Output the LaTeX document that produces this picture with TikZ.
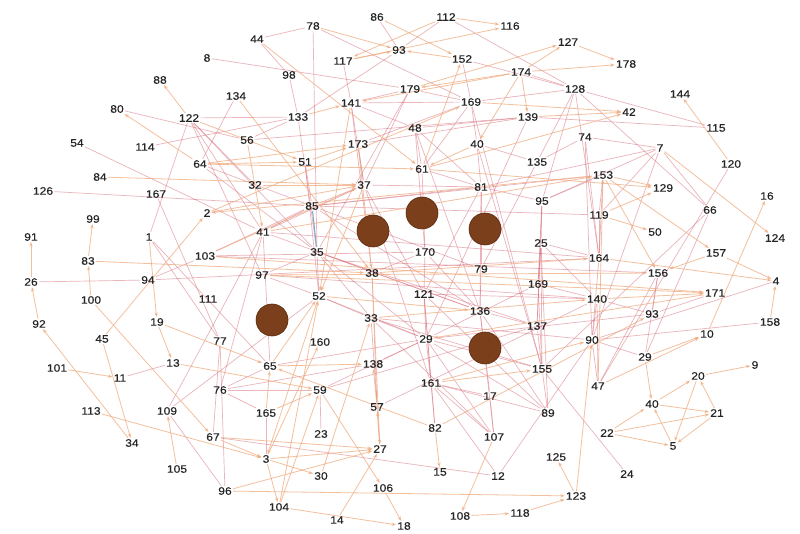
\documentclass[tikz,border=0pt]{standalone}
\usepackage{fontspec}
\setmainfont{Liberation Sans}[FakeStretch=1.12,FakeBold=0.35]
\usetikzlibrary{arrows.meta}
\pgfdeclarelayer{bg}
\pgfdeclarelayer{edges}
\pgfsetlayers{bg,edges,main}
\definecolor{eorange}{HTML}{F0AB7E}
\definecolor{ered}{HTML}{D66A78}
\definecolor{lbltxt}{HTML}{262626}
\definecolor{dotbrown}{HTML}{7B3F1B}
\definecolor{dotedge}{HTML}{5A2A0E}
\definecolor{eblue}{HTML}{86AACB}
\begin{document}
\begin{tikzpicture}[x=1pt,y=-1pt,
  lbl/.style={font=\fontsize{10.8}{11}\selectfont, text=lbltxt, inner sep=1pt},
  eo/.style={draw=eorange, opacity=0.75, line width=0.8pt, -{Stealth[length=4.5pt,width=3.4pt]}},
  er/.style={draw=ered, opacity=0.5, line width=0.7pt},
  eb/.style={draw=eblue, line width=1.1pt},
  hub/.style={circle, fill=dotbrown, draw=dotedge, line width=0.6pt, minimum size=32pt, inner sep=0pt}]
\useasboundingbox (0,0) rectangle (800,534);
\begin{pgfonlayer}{bg}
\fill[white] (0,0) rectangle (800,534);
\end{pgfonlayer}
\foreach \n/\x/\y/\t in {78/313/26/78, 86/377/17/86, 112/446/17/112, 116/510/26/116, 127/568/42/127, 178/626/64/178, 44/257/39/44, 93/399/50/93, 117/343/61/117, 152/462/59/152, 174/521/72/174, 8/207/58/8, 98/289/75/98, 179/410/89/179, 128/575/89/128, 169/471/102/169, 42/629/112/42, 144/680/94/144, 88/160/80/88, 134/236/96/134, 141/351/103/141, 139/528/117/139, 115/716/128/115, 80/117/109/80, 122/189/118/122, 133/298/117/133, 48/415/128/48, 40/477/144/40, 74/585/137/74, 7/660/148/7, 54/77/143/54, 114/145/147/114, 56/247/140/56, 173/358/144/173, 135/537/162/135, 120/731/164/120, 84/100/177/84, 64/200/164/64, 51/305/162/51, 61/422/169/61, 153/603/175/153, 126/43/191/126, 167/156/194/167, 32/255/185/32, 37/364/185/37, 81/481/187/81, 95/542/201/95, 129/663/188/129, 66/710/210/66, 16/767/196/16, 85/312/206/85, 2/207/213/2, 119/599/215/119, 124/775/238/124, 99/93/219/99, 91/31/237/91, 1/149/237/1, 41/263/232/41, 50/655/232/50, 170/425/252/170, 25/541/243/25, 157/716/253/157, 103/205/256/103, 35/317/252/35, 164/599/258/164, 83/88/261/83, 26/31/282/26, 94/148/280/94, 97/262/275/97, 38/372/273/38, 79/481/269/79, 156/658/273/156, 4/776/281/4, 171/715/293/171, 169b/538/284/169, 121/424/294/121, 100/91/300/100, 111/208/299/111, 52/319/296/52, 140/597/299/140, 136/480/311/136, 158/770/322/158, 92/39/324/92, 19/157/322/19, 33/371/318/33, 93b/652/314/93, 137/537/326/137, 45/102/339/45, 77/220/341/77, 160/320/342/160, 29/426/339/29, 90/592/340/90, 10/707/334/10, 13/173/363/13, 138/373/364/138, 65/270/366/65, 29b/645/357/29, 20/698/376/20, 9/755/365/9, 101/57/368/101, 11/120/378/11, 76/220/390/76, 59/320/390/59, 161/431/383/161, 155/542/369/155, 47/598/386/47, 17/490/396/17, 57/377/407/57, 89/548/413/89, 40b/652/404/40, 21/717/413/21, 113/91/411/113, 109/167/411/109, 165/266/413/165, 23/321/434/23, 82/435/428/82, 107/494/437/107, 22/607/433/22, 5/673/446/5, 67/213/437/67, 34/132/443/34, 27/380/449/27, 3/266/459/3, 30/321/476/30, 15/440/472/15, 12/498/476/12, 125/556/457/125, 24/627/474/24, 105/177/469/105, 96/225/491/96, 106/383/488/106, 123/576/496/123, 104/279/507/104, 14/337/520/14, 18/404/526/18, 108/460/516/108, 118/520/513/118}
  \node[lbl] (n\n) at (\x,\y) {\t};
\begin{pgfonlayer}{edges}
\foreach \a/\b in {54/41, 114/133, 80/56, 126/85, 167/77, 1/122, 1/77, 94/26, 94/103, 94/164, 109/52, 109/96, 109/41, 77/96, 77/67, 103/85, 41/85, 41/164, 41/37, 41/65, 41/76, 32/122, 64/85, 64/35, 133/35, 133/93, 133/56, 133/122, 98/133, 44/98, 78/44, 78/35, 78/169, 8/179, 134/64, 51/85, 51/52, 122/35, 122/97, 122/41, 11/13, 85/37, 85/81, 85/153, 85/119, 85/136, 85/79, 35/52, 35/97, 35/33, 35/136, 35/137, 35/29, 37/173, 37/161, 37/121, 37/141, 37/81, 38/57, 81/79, 81/136, 81/61, 81/95, 81/121, 81/48, 95/25, 95/169b, 95/137, 95/153, 95/7, 95/128, 25/169b, 25/137, 25/140, 25/164, 169b/155, 169b/29, 169b/140, 164/119, 164/153, 164/90, 119/153, 119/7, 156/93b, 156/29b, 156/47, 140/93b, 140/90, 93b/29, 93b/171, 90/29b, 90/4, 158/90, 137/136, 136/79, 136/170, 121/170, 121/161, 121/29, 29/33, 29/52, 29/59, 170/48, 170/38, 170/61, 170/103, 61/48, 61/169, 48/141, 48/136, 40/81, 40/169, 40/135, 135/128, 135/79, 135/74, 139/29, 139/173, 139/48, 74/7, 74/164, 74/90, 128/164, 128/115, 128/169, 128/174, 112/128, 112/93, 86/93, 117/141, 169/141, 169/173, 169/155, 179/141, 179/37, 179/169, 179/35, 141/38, 52/97, 52/33, 33/27, 33/155, 76/59, 76/65, 138/29, 82/161, 82/121, 161/17, 161/89, 161/107, 161/29, 17/107, 17/136, 12/161, 12/90, 107/33, 107/136, 107/29, 89/155, 89/136, 89/25, 89/121, 47/140, 47/90, 24/155, 155/25, 155/137, 155/29, 155/40, 165/3, 165/76, 59/23, 67/12, 57/140, 66/29b, 66/155, 120/47, 115/139, 7/81, 7/66, 7/90, 1/65, 152/169, 152/128, 128/66, 56/139, 103/156, 97/140, 41/136, 33/90, 121/140, 29/89, 59/137, 65/29, 76/138}
  \draw[er] (n\a) -- (n\b);
\foreach \a/\b in {122/88, 64/80, 83/99, 26/91, 100/83, 92/26, 34/92, 45/34, 45/2, 101/11, 1/19, 113/3, 105/109, 100/67, 19/65, 19/13, 13/59, 56/41, 134/38, 44/61, 78/93, 117/93, 117/116, 112/116, 112/117, 86/152, 174/127, 174/139, 174/40, 40/61, 179/127, 174/178, 127/178, 169/42, 61/42, 139/42, 153/129, 119/129, 153/157, 153/156, 7/124, 157/4, 157/156, 164/4, 158/4, 10/16, 29b/10, 140/171, 119/50, 120/144, 123/125, 118/123, 108/118, 107/108, 82/15, 20/9, 21/20, 40b/20, 40b/21, 5/40b, 22/40b, 22/21, 22/5, 21/5, 20/5, 29b/40b, 47/10, 47/153, 123/90, 3/104, 3/30, 3/27, 67/3, 67/27, 96/27, 96/123, 104/18, 14/27, 104/59, 104/52, 3/160, 165/65, 165/59, 59/106, 106/18, 30/33, 57/138, 27/57, 65/52, 65/138, 82/65, 82/93b, 161/155, 173/38, 64/51, 64/173, 51/173, 133/141, 32/37, 84/37, 83/38, 103/171, 97/171, 174/141, 174/179, 152/93, 61/129, 61/152, 153/2, 141/52, 37/52, 38/27, 2/169, 41/153, 103/37, 52/3, 97/156, 171/29, 122/51, 64/61, 2/37, 52/136, 33/140, 38/164, 161/90}
  \draw[eo] (n\a) -- (n\b);
\draw[eb] (n85) -- (n35);
\end{pgfonlayer}
\node[hub] (h1) at (373,231) {};
\node[hub] (h2) at (422,213) {};
\node[hub] (h3) at (485,229) {};
\node[hub] (h4) at (272,320) {};
\node[hub] (h5) at (485,348) {};
\end{tikzpicture}
\end{document}
